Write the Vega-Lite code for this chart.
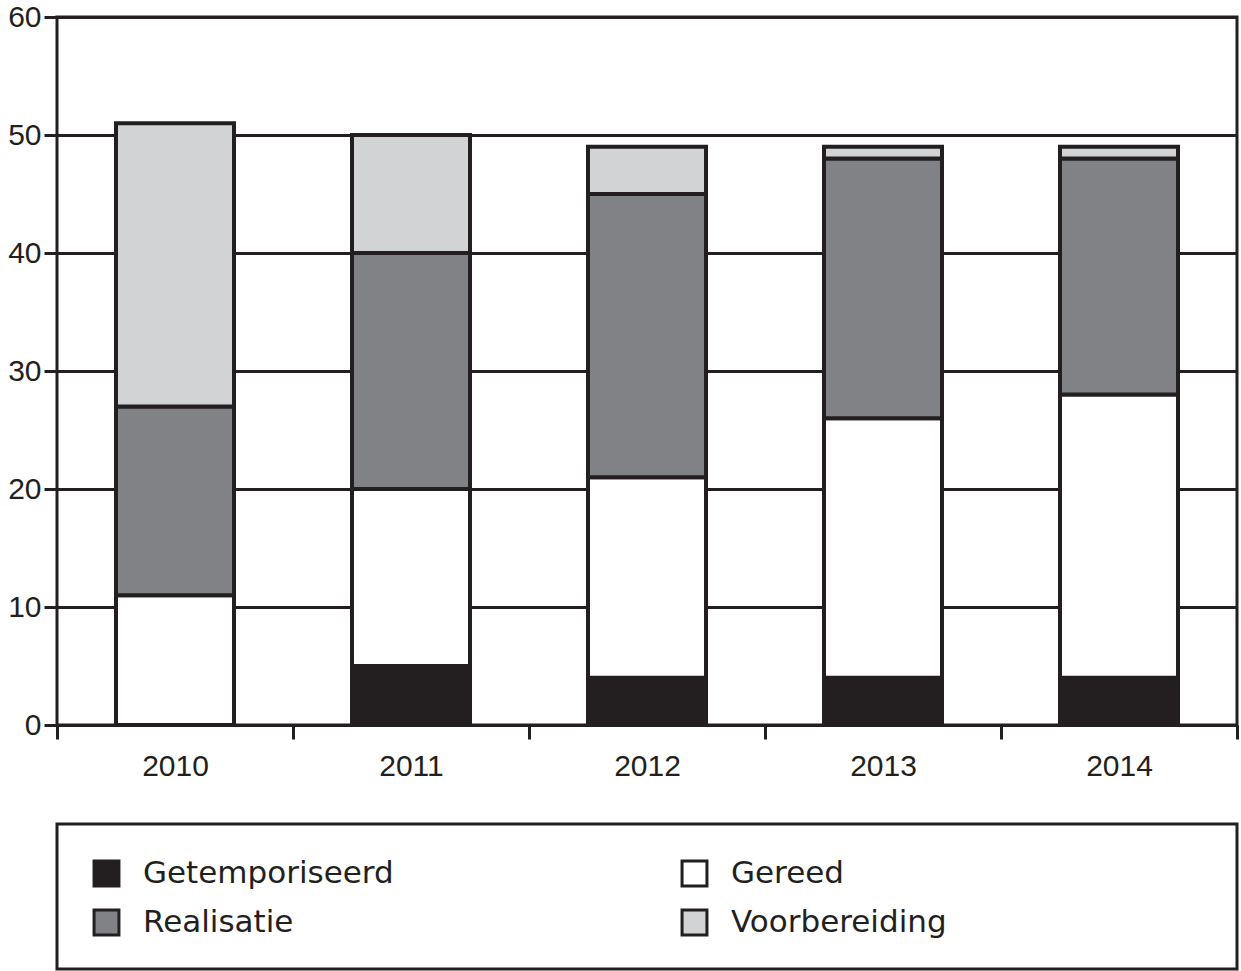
{
  "$schema": "https://vega.github.io/schema/vega-lite/v6.json",
  "padding": {"left": 6, "top": 0, "right": 2, "bottom": 2},
  "background": "white",
  "config": {
    "font": "Liberation Sans",
    "view": {"stroke": "#231f20", "strokeWidth": 3}
  },
  "data": {
    "values": [
      {"jaar": "2010", "status": "Gereed", "aantal": 11},
      {"jaar": "2010", "status": "Realisatie", "aantal": 16},
      {"jaar": "2010", "status": "Voorbereiding", "aantal": 24},
      {"jaar": "2011", "status": "Getemporiseerd", "aantal": 5},
      {"jaar": "2011", "status": "Gereed", "aantal": 15},
      {"jaar": "2011", "status": "Realisatie", "aantal": 20},
      {"jaar": "2011", "status": "Voorbereiding", "aantal": 10},
      {"jaar": "2012", "status": "Getemporiseerd", "aantal": 4},
      {"jaar": "2012", "status": "Gereed", "aantal": 17},
      {"jaar": "2012", "status": "Realisatie", "aantal": 24},
      {"jaar": "2012", "status": "Voorbereiding", "aantal": 4},
      {"jaar": "2013", "status": "Getemporiseerd", "aantal": 4},
      {"jaar": "2013", "status": "Gereed", "aantal": 22},
      {"jaar": "2013", "status": "Realisatie", "aantal": 22},
      {"jaar": "2013", "status": "Voorbereiding", "aantal": 1},
      {"jaar": "2014", "status": "Getemporiseerd", "aantal": 4},
      {"jaar": "2014", "status": "Gereed", "aantal": 24},
      {"jaar": "2014", "status": "Realisatie", "aantal": 20},
      {"jaar": "2014", "status": "Voorbereiding", "aantal": 1}
    ]
  },
  "transform": [
    {"calculate": "indexof(['Getemporiseerd','Gereed','Realisatie','Voorbereiding'], datum.status)", "as": "volgorde"}
  ],
  "resolve": {"legend": {"color": "independent"}},
  "spacing": 39,
  "vconcat": [
    {
      "width": 1180,
      "height": 708,
      "mark": {"type": "bar", "stroke": "#231f20", "strokeWidth": 4, "width": {"band": 0.5}},
      "encoding": {
        "x": {
          "field": "jaar", "type": "ordinal", "title": null,
          "scale": {"paddingInner": 0, "paddingOuter": 0},
          "axis": {
            "labelAngle": 0, "labelFontSize": 30, "labelColor": "#231f20",
            "tickBand": "extent",
            "tickSize": 14, "tickWidth": 3, "tickColor": "#231f20",
            "labelPadding": 12, "domain": false, "grid": false
          }
        },
        "y": {
          "field": "aantal", "type": "quantitative", "stack": "zero", "title": null,
          "scale": {"domain": [0, 60], "nice": false},
          "axis": {
            "values": [0, 10, 20, 30, 40, 50, 60],
            "labelFontSize": 30, "labelColor": "#231f20",
            "tickSize": 13, "tickWidth": 3, "tickColor": "#231f20",
            "labelPadding": 3, "domain": false,
            "grid": true, "gridColor": "#231f20", "gridWidth": 3, "gridOpacity": 1
          }
        },
        "color": {
          "field": "status", "type": "nominal",
          "scale": {
            "domain": ["Getemporiseerd", "Gereed", "Realisatie", "Voorbereiding"],
            "range": ["#231f20", "#ffffff", "#808285", "#d1d3d4"]
          },
          "legend": null
        },
        "order": {"field": "volgorde", "type": "quantitative"}
      }
    },
    {
      "width": 1180,
      "height": 145,
      "view": {"stroke": "#231f20", "strokeWidth": 3, "fill": "white"},
      "mark": {"type": "square", "opacity": 0},
      "encoding": {
        "x": {"field": "status", "type": "nominal", "axis": null},
        "y": {"field": "jaar", "type": "ordinal", "axis": null},
        "color": {
          "field": "status", "type": "nominal",
          "scale": {
            "domain": ["Getemporiseerd", "Gereed", "Realisatie", "Voorbereiding"],
            "range": ["#231f20", "#ffffff", "#808285", "#d1d3d4"]
          },
          "legend": {
            "title": null,
            "orient": "top-left",
            "direction": "horizontal",
            "offset": 34,
            "padding": 0,
            "columns": 2,
            "columnPadding": 282,
            "rowPadding": 12,
            "symbolType": "square",
            "symbolSize": 620,
            "symbolStrokeColor": "#231f20",
            "symbolStrokeWidth": 3,
            "symbolOpacity": 1,
            "labelFont": "DejaVu Sans",
            "labelFontSize": 31,
            "labelColor": "#231f20",
            "labelOffset": 21,
            "labelLimit": 400
          }
        }
      }
    }
  ]
}
